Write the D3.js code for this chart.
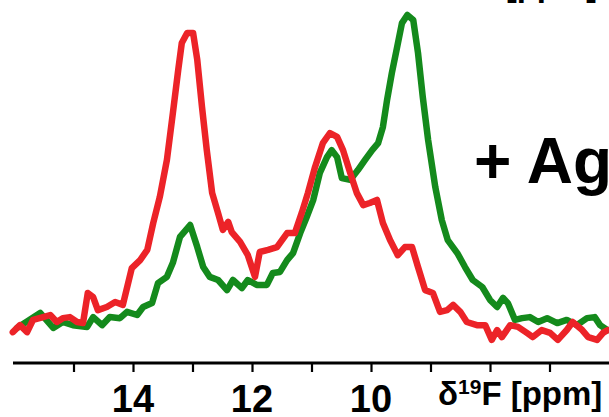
<!DOCTYPE html>
<html>
<head>
<meta charset="utf-8">
<script src="https://cdn.jsdelivr.net/npm/d3@7"></script>
<style>
  html, body { margin: 0; padding: 0; background: #fff; }
  svg { display: block; }
  text { font-family: "Liberation Sans", Arial, Helvetica, sans-serif; font-weight: bold; fill: #000; }
</style>
</head>
<body>
<svg id="chart" width="609" height="417"></svg>
<script>
// ---- data (ppm, intensity) ----
const redPpm = [16.02,15.90,15.78,15.68,15.51,15.39,15.28,15.18,15.06,14.94,14.84,14.76,14.67,14.59,14.44,14.30,14.17,14.02,13.88,13.76,13.66,13.55,13.43,13.33,13.24,13.18,13.09,12.99,12.92,12.84,12.76,12.67,12.57,12.49,12.40,12.34,12.20,12.07,11.95,11.87,11.73,11.58,11.41,11.28,11.16,11.06,10.94,10.81,10.69,10.57,10.47,10.35,10.24,10.13,10.02,9.90,9.80,9.68,9.55,9.43,9.31,9.21,9.09,8.96,8.84,8.72,8.62,8.50,8.39,8.22,8.08,7.97,7.88,7.80,7.66,7.53,7.38,7.28,7.13,6.99,6.86,6.71,6.61,6.45,6.35,6.20,6.10,6.02];
const redInt = [5.1,7.1,5.1,8.6,9.4,10.0,8.0,9.1,9.4,8.0,7.7,16.3,15.1,11.4,12.3,13.7,12.9,23.4,25.7,28.6,36.3,43.7,54.3,67.7,80.0,87.7,90.6,90.6,82.9,69.4,57.1,44.9,39.1,34.3,36.6,33.7,30.9,27.1,20.9,28.0,28.6,29.4,33.4,33.4,39.4,44.9,52.3,59.1,62.0,60.9,57.1,50.6,44.9,41.4,42.0,42.9,36.3,31.4,27.1,29.4,29.4,23.7,17.1,16.3,10.9,11.4,12.9,10.9,8.0,7.1,7.1,2.9,5.7,3.7,7.1,6.6,4.9,3.7,5.7,4.9,2.9,5.7,8.0,5.7,3.7,2.9,4.9,5.7];

const greenPpm = [15.95,15.56,15.34,15.18,15.01,14.77,14.67,14.52,14.39,14.22,14.10,13.93,13.83,13.68,13.58,13.43,13.33,13.21,13.04,12.92,12.82,12.71,12.57,12.42,12.32,12.17,12.07,11.92,11.75,11.65,11.53,11.41,11.31,11.19,11.08,10.97,10.86,10.74,10.66,10.57,10.49,10.35,10.22,10.10,9.98,9.88,9.80,9.73,9.65,9.56,9.48,9.39,9.29,9.21,9.13,9.04,8.92,8.81,8.71,8.55,8.42,8.29,8.13,8.00,7.88,7.78,7.70,7.58,7.46,7.33,7.19,7.04,6.87,6.71,6.54,6.37,6.24,6.15,6.03];
const greenInt = [6.3,10.6,6.3,8.0,7.1,6.6,9.4,7.1,9.4,9.1,10.9,10.0,12.3,13.4,19.1,20.9,24.9,32.3,35.7,29.4,23.7,20.9,20.0,17.1,20.0,17.7,20.0,18.6,18.6,22.0,22.3,25.7,27.7,33.4,38.0,42.9,50.6,55.1,57.1,55.1,49.1,48.6,51.4,54.3,57.1,59.1,63.7,71.4,79.1,86.6,93.4,95.7,94.3,84.9,72.3,60.0,46.6,37.1,31.4,27.7,23.7,20.0,18.0,14.3,12.3,14.9,13.4,8.6,9.1,9.4,8.0,9.1,7.7,8.6,7.1,9.1,9.4,7.1,5.7];

const tickValues = [15, 14, 13, 12, 11, 10, 9, 8, 7];
const tickLabels = ["", "14", "", "12", "", "10", "", "", ""];
const axisTitle = { delta: "δ", sup: "19", rest: "F [ppm]" };
const annotation = "+ Ag";

// ---- scales ----
const svg = d3.select("#chart");
const x = d3.scaleLinear().domain([16, 6]).range([14, 609]);
const y = d3.scaleLinear().domain([0, 100]).range([350, 0]);

const line = d3.line().x(d => x(d[0])).y(d => y(d[1]));
const redData = redPpm.map((p, i) => [p, redInt[i]]);
const greenData = greenPpm.map((p, i) => [p, greenInt[i]]);

// upper panel axis labels (mostly cut off at the top edge, as in the reference)
const topG = svg.append("g").attr("transform", "translate(3,0)");
tickValues.forEach((t, i) => {
  if (tickLabels[i]) {
    topG.append("text").attr("x", x(t)).attr("y", -1)
      .attr("text-anchor", "middle").attr("font-size", 38).text(tickLabels[i]);
  }
});
const tt = topG.append("text").attr("x", 430).attr("y", -4).attr("font-size", 33);
tt.append("tspan").text(axisTitle.delta);
tt.append("tspan").attr("font-size", 21).attr("dy", -11).text(axisTitle.sup);
tt.append("tspan").attr("dy", 11).text(axisTitle.rest);

// spectra
svg.append("path").datum(greenData).attr("d", line)
  .attr("fill", "none").attr("stroke", "#148a1c").attr("stroke-width", 6.5)
  .attr("stroke-linejoin", "round").attr("stroke-linecap", "round");
svg.append("path").datum(redData).attr("d", line)
  .attr("fill", "none").attr("stroke", "#ec2328").attr("stroke-width", 6.5)
  .attr("stroke-linejoin", "round").attr("stroke-linecap", "round");

// x axis
const axis = d3.axisBottom(x).tickValues(tickValues).tickSize(9).tickFormat("");
const ax = svg.append("g").attr("transform", "translate(0,363)").call(axis);
ax.select(".domain").attr("stroke", "#000").attr("stroke-width", 3).attr("d", "M13,0H609");
ax.selectAll(".tick line").attr("stroke", "#000").attr("stroke-width", 2.2);

tickValues.forEach((t, i) => {
  if (tickLabels[i]) {
    svg.append("text").attr("x", x(t)).attr("y", 412)
      .attr("text-anchor", "middle").attr("font-size", 38).text(tickLabels[i]);
  }
});

const title = svg.append("text").attr("x", 438).attr("y", 405).attr("font-size", 33);
title.append("tspan").text(axisTitle.delta);
title.append("tspan").attr("font-size", 21).attr("dy", -11).text(axisTitle.sup);
title.append("tspan").attr("dy", 11).text(axisTitle.rest);

// annotation
svg.append("text").attr("x", 474).attr("y", 183).attr("font-size", 64).text(annotation);
</script>
</body>
</html>
